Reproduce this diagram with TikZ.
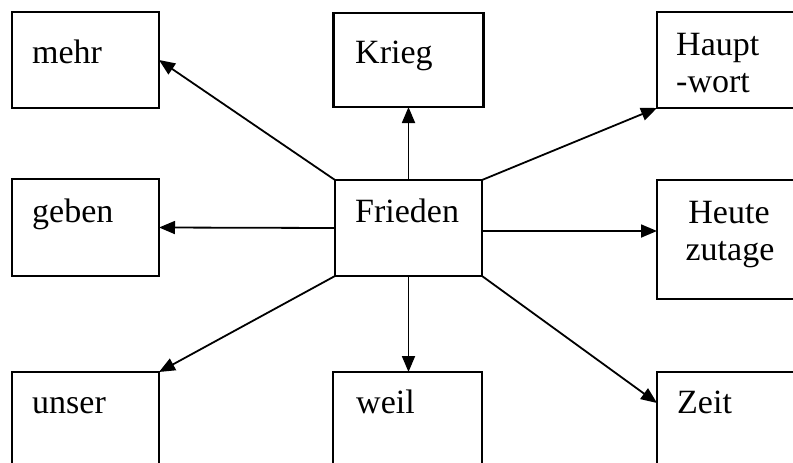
\documentclass[tikz,border=0pt]{standalone}
\usepackage{fontspec}
\setmainfont{Liberation Serif}
\usetikzlibrary{arrows.meta,calc}
\tikzset{
  wordbox/.style={draw, line width=2.2pt, outer sep=0pt, inner sep=0pt, minimum width=#1},
  wordbox/.default=147pt,
  word/.style={inner sep=0pt, anchor=base west, font=\fontsize{34}{38}\selectfont},
  link/.style={line width=1.8pt, -{Triangle[length=16pt,width=13pt]}}
}
\begin{document}
\begin{tikzpicture}[x=1pt,y=-1pt]
\useasboundingbox (0,0) rectangle (793,463);

% boxes (the right column and bottom row run past the page edge)
\node[wordbox, minimum height=96pt] (mehr) at (85.5,60) {};
\node[wordbox=150pt, minimum height=94pt] (krieg) at (408.5,60) {};
\node[wordbox=148pt, minimum height=96pt] (haupt) at (731,60) {};
\node[wordbox, minimum height=97pt] (geben) at (85.5,227.5) {};
\node[wordbox, minimum height=96pt] (fried) at (408.5,228) {};
\node[wordbox=148pt, minimum height=119pt] (heute) at (731,239.5) {};
\node[wordbox, minimum height=108pt] (unser) at (85.5,426) {};
\node[wordbox=149pt, minimum height=108pt] (weil) at (407.5,426) {};
\node[wordbox=148pt, minimum height=108pt] (zeit) at (731,426) {};

% labels
\node[word] (tmehr) at (32,63) {mehr};
\node[word] (tkrieg) at (355,63) {Krieg};
\node[word] (thaupt) at (676,55) {Haupt};
\node[word] (twort) at (676,92) {-wort};
\node[word] (tgeben) at (32,222) {geben};
\node[word] (tfried) at (355,222) {Frieden};
\node[word, anchor=base] (theute) at (729,223) {Heute};
\node[word, anchor=base] (tzutage) at (730,260) {zutage};
\node[word] (tunser) at (32,413) {unser};
\node[word] (tweil) at (356,413) {weil};
\node[word] (tzeit) at (677,413) {Zeit};

% connector end points off the box anchors
\coordinate (fe) at ($(fried.east)+(0,3)$);
\coordinate (ze) at ($(zeit.north west)+(0,31)$);

% connectors from the centre box
\draw[link] (fried.north) -- (krieg.south);
\draw[link] (fried.north west) -- (mehr.east);
\draw[link] (fried.north east) -- (haupt.south west);
\draw[link] (fried.west) -- (geben.east);
\draw[link] (fe) -- (fe -| heute.west);
\draw[link] (fried.south west) -- (unser.north east);
\draw[link] (fried.south) -- (fried.south |- weil.north);
\draw[link] (fried.south east) -- (ze);
\end{tikzpicture}
\end{document}
